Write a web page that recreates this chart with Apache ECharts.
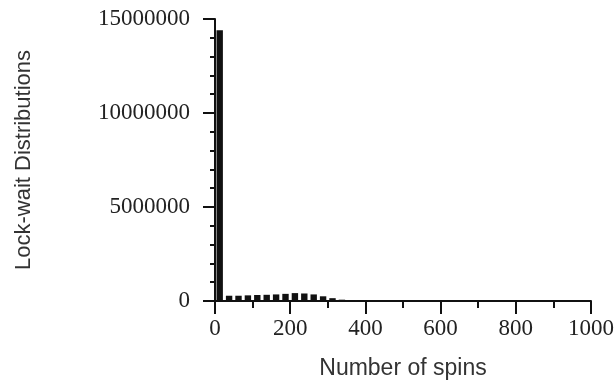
<!DOCTYPE html>
<html>
<head>
<meta charset="utf-8">
<script src="https://cdn.jsdelivr.net/npm/echarts@6/dist/echarts.min.js"></script>
<style>
html,body{margin:0;padding:0;background:#fff;}
#chart{width:616px;height:381px;}
</style>
</head>
<body>
<div id="chart"></div>
<script>
// Data
var binStarts = [0, 25, 50, 75, 100, 125, 150, 175, 200, 225, 250, 275, 300, 325, 350, 375];
var binWidth = 25;
var binCounts = [14400000, 280000, 280000, 300000, 320000, 330000, 350000, 380000, 420000, 400000, 350000, 250000, 150000, 70000, 40000, 20000];
var xTicks = [0, 200, 400, 600, 800, 1000];
var yTicks = [0, 5000000, 10000000, 15000000];

var chart = echarts.init(document.getElementById('chart'));
var data = binStarts.map(function (s, i) { return [s, s + binWidth, binCounts[i]]; });
function plain(v) { return String(v); }

chart.setOption({
  backgroundColor: '#ffffff',
  animation: false,
  grid: { left: 215, right: 25, top: 19, bottom: 80, containLabel: false, outerBoundsMode: 'none' },
  xAxis: {
    type: 'value',
    min: xTicks[0], max: xTicks[xTicks.length - 1], interval: 200,
    name: 'Number of spins',
    nameLocation: 'middle',
    nameGap: 56,
    nameMoveOverlap: false,
    nameTextStyle: { fontFamily: 'Liberation Sans', fontSize: 23, color: '#333', verticalAlign: 'top' },
    axisLine: { show: true, onZero: false, lineStyle: { color: '#111', width: 2 } },
    axisTick: { show: true, inside: false, length: 13, lineStyle: { color: '#111', width: 2 } },
    minorTick: { show: true, splitNumber: 2, length: 7, lineStyle: { color: '#111', width: 2 } },
    splitLine: { show: false },
    axisLabel: { fontFamily: 'Liberation Serif', fontSize: 23, color: '#222', margin: 16, formatter: plain }
  },
  yAxis: {
    type: 'value',
    min: yTicks[0], max: yTicks[yTicks.length - 1], interval: 5000000,
    name: 'Lock-wait Distributions',
    nameLocation: 'middle',
    nameGap: 180,
    nameMoveOverlap: false,
    nameTextStyle: { fontFamily: 'Liberation Sans', fontSize: 22, color: '#333' },
    axisLine: { show: true, lineStyle: { color: '#111', width: 2 } },
    axisTick: { show: true, length: 12, lineStyle: { color: '#111', width: 2 } },
    minorTick: { show: true, splitNumber: 5, length: 5, lineStyle: { color: '#111', width: 2 } },
    splitLine: { show: false },
    axisLabel: { fontFamily: 'Liberation Serif', fontSize: 23, color: '#222', margin: 25, formatter: plain }
  },
  series: [{
    type: 'custom',
    data: data,
    encode: { x: [0, 1], y: 2 },
    renderItem: function (params, api) {
      var p0 = api.coord([api.value(0), api.value(2)]);
      var p1 = api.coord([api.value(1), 0]);
      var x = p0[0] + 1.5, w = p1[0] - p0[0] - 3;
      return {
        type: 'rect',
        shape: { x: x, y: p0[1], width: w, height: p1[1] - p0[1] },
        style: { fill: '#111' }
      };
    }
  }]
});
</script>
</body>
</html>
